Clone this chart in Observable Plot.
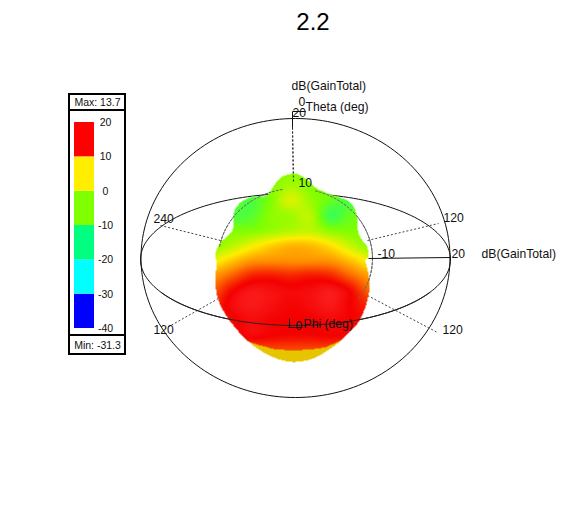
<!DOCTYPE html>
<html>
<head>
<meta charset="utf-8">
<script src="https://cdn.jsdelivr.net/npm/d3@7"></script>
<script src="https://cdn.jsdelivr.net/npm/@observablehq/plot@0.6"></script>
<style>
html,body{margin:0;padding:0;background:#fff}
#wrap{position:relative;width:570px;height:523px;overflow:hidden}
#wrap svg{position:absolute;left:0;top:0;background:transparent}
</style>
</head>
<body>
<div id="wrap"></div>
<script>
const FONT = "'Liberation Sans', Arial, sans-serif";

// colour bar
const barBreaks = [-40,-30,-20,-10,0,10,20];
const barColors = ["#0000ff","#00ffff","#00ff80","#80ff00","#ffee00","#ff0000"];
const barTicks = [20,10,0,-10,-20,-30,-40];
const maxLabel = "Max: 13.7";
const minLabel = "Min: -31.3";

// silhouette of the gain surface as seen in the picture
const blobX = [293,300,308,315,325,333,347,354,357,357,360,367,368,365,368,369,366,359,347,333,315,300,287,271,254,238,225,217,215,216,215,220,232,233,240,253,266,275,282];
const blobY = [173,175,180,187,192,195,200,208,220,228,237,247,257,260,273,287,303,320,334,346,357,361,361,356,346,331,314,297,280,263,253,242,230,213,202,196,195,183,176];

// lower edge of the red lobe, below which the yellow back lobe shows
const lobeEdgeX = [235,245,260,275,293,310,325,340,352];
const lobeEdgeY = [333,340,345,349,350,349,347,340,332];

// colour level on a sample grid
const gridX = [210,230,250,270,290,310,330,350,370];
const gridY = [170,185,200,215,230,245,260,275,290,305,320,335,350,365];
const level = [
 [1,1,1,1,1.05,1.05,1,1,1],
 [1,.95,.9,1,1.3,1.05,.95,.95,1],
 [1,.9,.45,1,1.7,1.2,.75,.45,1],
 [1,.5,.55,1.1,1.25,1.45,.3,.75,1],
 [1,1,1,1.2,1.4,1.5,1.1,1,1],
 [1.1,1.4,1.85,2.25,2.5,2.45,2.1,1.55,1.1],
 [1.8,2.3,2.75,2.85,2.85,2.85,2.8,2.4,1.9],
 [2.7,3.2,3.7,3.8,3.7,3.8,3.7,3.2,2.7],
 [3.2,3.9,4.25,4.2,4.1,4.15,4.3,3.95,3.2],
 [3.6,4.1,4.3,4.2,4.05,4.15,4.3,4,3.7],
 [3.6,3.9,4.15,4.05,4,4,4.1,4,3.8],
 [3.4,3.8,4.1,4,3.95,3.95,4,3.9,3.4],
 [3,3,3.3,3.4,3.4,3.4,3.4,3.2,3],
 [3,3,3,3,3,3,3,3,3]
];
const backLevel = -1;
const levelDomain = [-1,-0.5,0,1,2,3,4,4.6];
const levelRange = ["#e6c400","#e6c400","#20ff70","#80ff00","#ffee00","#ff8000","#f40000","#ff3030"];

// polar frame
const sphere = {cx:295, cy:257.5, rx:154.5, ry:139.5};
const equator = {cx:295, cy:259, rx:155, ry:66};
const ring = {cx:295, cy:258, rx:77, ry:70};
const spokes = [
 {x1:367,y1:240,x2:438,y2:223},
 {x1:367,y1:295,x2:437,y2:332},
 {x1:220,y1:240,x2:160,y2:225},
 {x1:218,y1:298,x2:165,y2:328},
 {x1:292,y1:127,x2:293,y2:183}
];
const solidLines = [
 {x1:368,y1:258,x2:450,y2:257},
 {x1:292,y1:111,x2:305,y2:111},
 {x1:292,y1:111,x2:292,y2:127},
 {x1:288,y1:327,x2:302,y2:327},
 {x1:289,y1:318,x2:289,y2:327}
];
const labels = [
 {t:"dB(GainTotal)",x:291,y:86},
 {t:"0",x:298,y:102},
 {t:"Theta (deg)",x:305,y:107},
 {t:"20",x:292,y:113},
 {t:"10",x:298,y:183},
 {t:"-10",x:377,y:254},
 {t:"20",x:451,y:254},
 {t:"dB(GainTotal)",x:481,y:254},
 {t:"120",x:443,y:218},
 {t:"120",x:442,y:330},
 {t:"240",x:153,y:219},
 {t:"120",x:153,y:330},
 {t:"0",x:295,y:326},
 {t:"Phi (deg)",x:303,y:324}
];
const frameBoxes = [
 {x1:69,y1:94,x2:125,y2:110},
 {x1:69,y1:110,x2:125,y2:335},
 {x1:69,y1:335,x2:125,y2:354}
];

function ellipse(e, a0=0, a1=360) {
  return d3.range(a0, a1 + 1, 2).map(a => ({
    x: e.cx + e.rx*Math.cos(a*Math.PI/180),
    y: e.cy + e.ry*Math.sin(a*Math.PI/180)
  }));
}
function cr(p0,p1,p2,p3,t){
  return 0.5*((2*p1)+(-p0+p2)*t+(2*p0-5*p1+4*p2-p3)*t*t+(-p0+3*p1-3*p2+p3)*t*t*t);
}
// smooth closed outline through the read silhouette points
const n = blobX.length;
const blobPoly = [];
for (let i=0;i<n;i++) for (let s=0;s<4;s++) {
  const a=(i-1+n)%n,b=i,c=(i+1)%n,d=(i+2)%n,t=s/4;
  blobPoly.push([cr(blobX[a],blobX[b],blobX[c],blobX[d],t),cr(blobY[a],blobY[b],blobY[c],blobY[d],t)]);
}
const lobeEdge = d3.scaleLinear().domain(lobeEdgeX).range(lobeEdgeY);
function sampleLevel(x,y){
  if (x>lobeEdgeX[0] && x<lobeEdgeX[lobeEdgeX.length-1] && y>lobeEdge(x)) return backLevel;
  const fx = Math.max(0,Math.min(gridX.length-1.001,(x-gridX[0])/20));
  const fy = Math.max(0,Math.min(gridY.length-1.001,(y-gridY[0])/15));
  const i = Math.floor(fx), j = Math.floor(fy);
  const at = (r,c)=> level[Math.max(0,Math.min(level.length-1,r))][Math.max(0,Math.min(gridX.length-1,c))];
  const row = r => cr(at(r,i-1),at(r,i),at(r,i+1),at(r,i+2),fx-i);
  return cr(row(j-1),row(j),row(j+1),row(j+2),fy-j);
}
const txt = (data,size) => Plot.text(data,{x:"x",y:"y",text:"t",textAnchor:"start",fontSize:size||12.2,fontFamily:FONT,fill:"#111"});

const main = Plot.plot({
  width:570, height:523, margin:0,
  x:{domain:[0,570],range:[0,570],axis:null},
  y:{domain:[0,523],range:[0,523],axis:null},
  color:{type:"linear",domain:levelDomain,range:levelRange,clamp:true},
  style:{background:"transparent"},
  marks:[
    Plot.line(ellipse(sphere),{x:"x",y:"y",stroke:"#111",strokeWidth:1}),
    Plot.line(ellipse(equator),{x:"x",y:"y",stroke:"#111",strokeWidth:1}),
    Plot.line(ellipse(ring),{x:"x",y:"y",stroke:"#555",strokeWidth:1,strokeDasharray:"2,2"}),
    Plot.link(spokes,{x1:"x1",y1:"y1",x2:"x2",y2:"y2",stroke:"#444",strokeWidth:1,strokeDasharray:"2,2"}),
    Plot.raster({
      x1:205,x2:380,y1:165,y2:370,pixelSize:1,
      fill:(x,y)=>sampleLevel(x,y),
      fillOpacity:(x,y)=>d3.polygonContains(blobPoly,[x,y])?1:0
    }),
    Plot.line(ellipse(ring,190,260),{x:"x",y:"y",stroke:"#666",strokeWidth:1,strokeDasharray:"2,2"}),
    Plot.line(ellipse(ring,285,395),{x:"x",y:"y",stroke:"#666",strokeWidth:1,strokeDasharray:"2,2"}),
    Plot.line(ellipse(equator,30,150),{x:"x",y:"y",stroke:"#222",strokeWidth:1,strokeDasharray:"7,1"}),
    Plot.link(solidLines,{x1:"x1",y1:"y1",x2:"x2",y2:"y2",stroke:"#111",strokeWidth:1}),
    Plot.link(spokes.slice(4),{x1:"x1",y1:"y1",x2:"x2",y2:"y2",stroke:"#222",strokeWidth:1,strokeDasharray:"2,2"}),
    txt(labels),
    Plot.text(["2.2"],{x:()=>312.5,y:()=>22,text:d=>d,fontSize:24,fontFamily:FONT,fill:"#000"}),
    Plot.rect(frameBoxes,{x1:"x1",y1:"y1",x2:"x2",y2:"y2",fill:"none",stroke:"#000",strokeWidth:2})
  ]
});

const bar = barColors.map((c,i)=>({y1:barBreaks[i],y2:barBreaks[i+1],c}));
const legend = Plot.plot({
  width:140, height:360, marginTop:122, marginBottom:32, marginLeft:74, marginRight:46,
  x:{domain:[0,1],axis:null},
  y:{domain:[-40,20],axis:null},
  style:{background:"transparent"},
  marks:[
    Plot.rectY(bar,{x1:()=>0,x2:()=>1,y1:"y1",y2:"y2",fill:"c",inset:0}),
    Plot.text(barTicks,{y:d=>d,x:()=>1,text:d=>String(d),dx:11,fontSize:10.5,fontFamily:FONT,fill:"#111"}),
    Plot.text([maxLabel],{frameAnchor:"top",text:d=>d,dy:-24,dx:13,fontSize:10.5,fontFamily:FONT,fill:"#111"}),
    Plot.text([minLabel],{frameAnchor:"bottom",text:d=>d,dy:20,dx:13,fontSize:10.5,fontFamily:FONT,fill:"#111"})
  ]
});
const wrap = document.getElementById("wrap");
wrap.append(main);
wrap.append(legend);
</script>
</body>
</html>
